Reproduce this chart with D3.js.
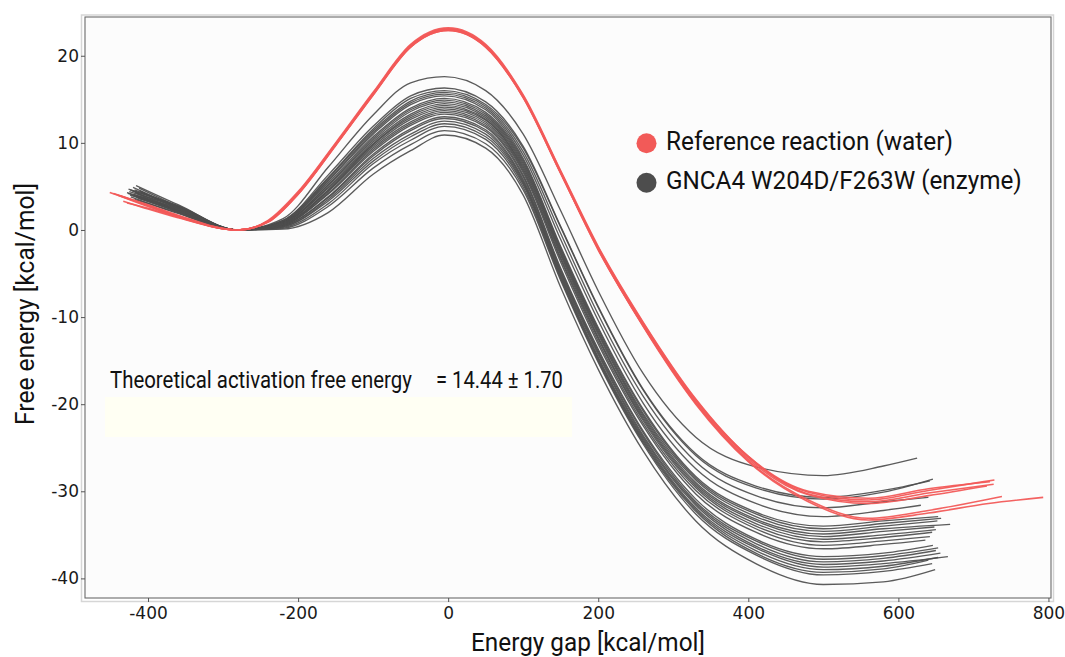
<!DOCTYPE html>
<html>
<head>
<meta charset="utf-8">
<script src="https://cdn.jsdelivr.net/npm/d3@7"></script>
<style>
  html, body { margin: 0; padding: 0; background: #ffffff; }
  svg { display: block; }
</style>
</head>
<body>
<script>
// ---------------- DATA ----------------
const xTicks = [-400, -200, 0, 200, 400, 600, 800];
const yTicks = [-40, -30, -20, -10, 0, 10, 20];

// Enzyme (GNCA4 W204D/F263W) free-energy profiles on a shared energy-gap grid
const enzymeGrid = [-360, -280, -220, -160, -100, -50, -5, 50, 100, 150, 200, 260, 330, 410, 500, 580];
const enzymeStart = [
  [-416, 5.1], [-424, 4.6], [-412, 4.8], [-428, 4.3], [-420, 4.9], [-415, 4.2],
  [-426, 4.7], [-410, 4.4], [-422, 4.0], [-418, 4.6], [-413, 3.9], [-425, 4.4],
  [-419, 4.1], [-411, 4.5], [-427, 4.2], [-416, 3.8], [-421, 4.5], [-414, 3.7],
  [-424, 4.0], [-417, 4.3], [-412, 3.6], [-423, 3.8], [-418, 3.5]
];
const enzymeEnd = [
  [625, -26.2], [642, -28.8], [646, -28.6], [640, -30.7], [630, -31.6], [653, -32.9],
  [657, -33.1], [652, -33.4], [669, -33.8], [648, -34.1], [650, -34.4], [645, -34.7],
  [642, -35.2], [636, -35.6], [646, -36.2], [653, -36.5], [650, -36.8], [656, -37.1],
  [666, -37.5], [653, -37.6], [640, -37.9], [645, -38.3], [649, -39.0]
];
const enzymeEnergy = [
  [2.9, 0, 1.3, 7.2, 13.2, 16.9, 17.6, 16.0, 11.0, 2.2, -7.0, -16.5, -23.8, -27.2, -28.2, -27.1],
  [2.7, 0, 1.1, 6.3, 11.9, 15.4, 16.3, 14.7, 9.6, 0.4, -8.8, -18.3, -25.7, -29.4, -30.7, -29.9],
  [2.7, 0, 1.1, 6.0, 11.6, 15.1, 16.0, 14.4, 9.4, 0.3, -8.9, -18.4, -25.9, -29.6, -30.9, -30.1],
  [2.5, 0, 1.0, 5.9, 11.4, 14.8, 15.8, 14.2, 9.0, -0.4, -9.7, -19.1, -26.6, -30.5, -31.9, -31.2],
  [2.6, 0, 1.0, 5.7, 11.2, 14.6, 15.6, 14.0, 8.6, -1.1, -10.4, -19.9, -27.4, -31.4, -32.9, -32.2],
  [2.6, 0, 0.9, 5.6, 11.0, 14.4, 15.4, 13.8, 8.2, -1.9, -11.2, -20.6, -28.3, -32.4, -34.0, -33.4],
  [2.8, 0, 0.9, 5.4, 10.7, 14.0, 15.1, 13.5, 8.0, -2.1, -11.4, -20.8, -28.5, -32.6, -34.3, -33.7],
  [2.5, 0, 0.8, 5.2, 10.5, 13.8, 14.9, 13.3, 7.8, -2.3, -11.6, -21.1, -28.7, -32.9, -34.6, -34.0],
  [2.3, 0, 0.8, 5.1, 10.3, 13.6, 14.7, 13.1, 7.6, -2.5, -11.8, -21.3, -29.0, -33.2, -34.9, -34.3],
  [2.7, 0, 0.8, 4.9, 10.1, 13.3, 14.5, 12.9, 7.4, -2.7, -12.0, -21.5, -29.2, -33.4, -35.2, -34.6],
  [2.4, 0, 0.8, 4.8, 9.9, 13.1, 14.3, 12.7, 7.2, -2.9, -12.3, -21.7, -29.4, -33.7, -35.5, -35.0],
  [2.6, 0, 0.7, 4.6, 9.8, 12.9, 14.1, 12.6, 7.0, -3.2, -12.5, -21.9, -29.6, -34.0, -35.8, -35.3],
  [2.2, 0, 0.7, 4.5, 9.6, 12.7, 13.9, 12.4, 6.8, -3.4, -12.8, -22.2, -29.9, -34.3, -36.2, -35.7],
  [2.5, 0, 0.6, 4.4, 9.4, 12.4, 13.7, 12.2, 6.6, -3.7, -13.1, -22.5, -30.3, -34.7, -36.6, -36.1],
  [2.3, 0, 0.6, 4.2, 9.2, 12.2, 13.5, 12.0, 6.3, -4.4, -13.7, -23.1, -30.9, -35.5, -37.5, -37.1],
  [2.1, 0, 0.6, 4.1, 9.0, 12.0, 13.3, 11.8, 6.1, -4.6, -13.9, -23.3, -31.2, -35.7, -37.8, -37.4],
  [2.3, 0, 0.5, 3.8, 8.7, 11.6, 13.0, 11.5, 5.8, -4.8, -14.1, -23.6, -31.4, -36.0, -38.1, -37.7],
  [2.4, 0, 0.5, 3.7, 8.5, 11.4, 12.8, 11.3, 5.6, -5.0, -14.3, -23.8, -31.6, -36.3, -38.4, -38.0],
  [2.2, 0, 0.4, 3.5, 8.2, 11.0, 12.5, 11.0, 5.4, -5.2, -14.6, -24.0, -31.9, -36.5, -38.7, -38.3],
  [2.0, 0, 0.4, 3.3, 7.9, 10.7, 12.2, 10.7, 5.2, -5.4, -14.8, -24.2, -32.1, -36.8, -39.0, -38.6],
  [2.1, 0, 0.3, 3.0, 7.6, 10.3, 11.9, 10.4, 4.9, -5.6, -15.0, -24.4, -32.3, -37.1, -39.3, -38.9],
  [1.9, 0, 0.2, 2.7, 7.1, 9.8, 11.4, 9.9, 4.6, -5.8, -15.2, -24.6, -32.6, -37.3, -39.6, -39.2],
  [2.0, 0, 0.1, 2.0, 6.4, 9.1, 10.9, 9.4, 4.0, -6.6, -16.0, -25.4, -33.4, -38.3, -40.7, -40.4]
];

// Reference reaction (water) profiles
const waterGrid = [-400, -360, -280, -240, -200, -150, -100, -50, 0, 50, 100, 150, 200, 260, 330, 400, 480, 560, 640];
const waterStart = [[-451, 4.3], [-446, 4.2], [-440, 4.0], [-436, 3.9], [-433, 3.3], [-428, 3.1]];
const waterTail = [
  [[728, -28.7]],
  [[727, -29.2]],
  [[718, -29.4]],
  [[722, -28.9]],
  [[738, -30.6]],
  [[720, -31.4], [793, -30.7]]
];
const waterEnergy = [
  [2.8, 1.6, 0.0, 1.0, 4.2, 9.8, 15.6, 21.1, 23.0, 21.1, 15.3, 6.6, -2.1, -10.8, -19.6, -26.1, -30.1, -31.0, -29.9],
  [2.9, 1.7, 0.0, 1.1, 4.4, 10.0, 15.8, 21.3, 23.2, 21.3, 15.5, 6.8, -1.9, -10.6, -19.4, -26.0, -30.3, -31.2, -30.2],
  [2.7, 1.5, 0.0, 0.9, 4.1, 9.7, 15.5, 21.0, 22.9, 21.0, 15.2, 6.5, -2.3, -11.0, -19.8, -26.3, -30.4, -31.4, -30.5],
  [2.8, 1.6, 0.0, 1.0, 4.3, 9.9, 15.7, 21.2, 23.1, 21.2, 15.4, 6.7, -2.0, -10.7, -19.5, -26.0, -30.0, -30.8, -29.7],
  [2.4, 1.4, 0.0, 0.9, 4.1, 9.7, 15.5, 21.0, 22.9, 21.0, 15.2, 6.5, -2.2, -11.0, -19.9, -26.5, -31.0, -33.1, -32.2],
  [2.5, 1.5, 0.0, 1.0, 4.2, 9.8, 15.6, 21.1, 23.0, 21.1, 15.3, 6.6, -2.2, -11.1, -20.0, -26.6, -31.2, -33.3, -32.5]
];

const legendLabels = ["Reference reaction (water)", "GNCA4 W204D/F263W (enzyme)"];
const annotationLabel = "Theoretical activation free energy";
const annotationValue = "= 14.44 ± 1.70";

// ---------------- DRAWING ----------------
const W = 1065, H = 657;
const plot = { left: 85, top: 17, right: 1051, bottom: 598 };
const colRed = "#f25a58", colGray = "#4d4d4d";

const svg = d3.select("body").append("svg").attr("width", W).attr("height", H);
svg.append("rect").attr("width", W).attr("height", H).attr("fill", "#ffffff");

const x = d3.scaleLinear().domain([-484, 803.4]).range([plot.left, plot.right]);
const y = d3.scaleLinear().domain([-42.25, 24.45]).range([plot.bottom, plot.top]);

svg.append("rect").attr("x", 81.5).attr("y", 15).attr("width", 972).attr("height", 586.5)
  .attr("fill", "#ffffff").attr("stroke", "#d6d6d6").attr("stroke-width", 1.5);
svg.append("rect").attr("x", plot.left).attr("y", plot.top)
  .attr("width", plot.right - plot.left).attr("height", plot.bottom - plot.top)
  .attr("fill", "#fcfcfc");

svg.append("rect").attr("x", 105).attr("y", 397).attr("width", 467).attr("height", 40)
  .attr("fill", "#fffff3");

const line = d3.line().x(d => x(d[0])).y(d => y(d[1])).curve(d3.curveMonotoneX);

const gEnz = svg.append("g");
enzymeEnergy.forEach((vals, i) => {
  const pts = [enzymeStart[i]].concat(enzymeGrid.map((gx, j) => [gx, vals[j]]), [enzymeEnd[i]]);
  gEnz.append("path").attr("d", line(pts)).attr("fill", "none")
    .attr("stroke", colGray).attr("stroke-width", 1.35).attr("stroke-opacity", 0.92);
});

const gWat = svg.append("g");
waterEnergy.forEach((vals, i) => {
  const pts = [waterStart[i]].concat(waterGrid.map((gx, j) => [gx, vals[j]]), waterTail[i]);
  gWat.append("path").attr("d", line(pts)).attr("fill", "none")
    .attr("stroke", colRed).attr("stroke-width", 1.6).attr("stroke-opacity", 0.95);
});

svg.append("rect").attr("x", plot.left).attr("y", plot.top)
  .attr("width", plot.right - plot.left).attr("height", plot.bottom - plot.top)
  .attr("fill", "none").attr("stroke", "#6a6a6a").attr("stroke-width", 1.1);

const xAxis = svg.append("g").attr("transform", `translate(0,${plot.bottom})`)
  .call(d3.axisBottom(x).tickValues(xTicks).tickSize(4).tickPadding(5).tickFormat(d => String(d)));
const yAxis = svg.append("g").attr("transform", `translate(${plot.left},0)`)
  .call(d3.axisLeft(y).tickValues(yTicks).tickSize(4).tickPadding(2).tickFormat(d => String(d)));
[xAxis, yAxis].forEach(a => {
  a.select(".domain").remove();
  a.selectAll(".tick line").attr("stroke", "#555").attr("stroke-width", 1);
  a.selectAll(".tick text").attr("font-family", "DejaVu Sans").attr("font-size", 17).attr("fill", "#1a1a1a");
});

// condensed-looking text: natural Roboto, horizontally scaled to the measured width
function condensedText(str, tx, ty, targetW, size, rotate, anchor) {
  const t = svg.append("text").attr("font-family", "Roboto").attr("font-size", size)
    .attr("fill", "#111").attr("text-anchor", anchor || "start").text(str);
  const natural = t.node().getComputedTextLength();
  const sx = targetW / natural;
  t.attr("transform", `translate(${tx},${ty})${rotate ? " rotate(" + rotate + ")" : ""} scale(${sx},1)`);
  return t;
}

condensedText("Energy gap [kcal/mol]", 471, 651, 234, 25.5);
condensedText("Free energy [kcal/mol]", 33.5, 304, 242, 25.5, -90, "middle");

const legColors = [colRed, colGray];
const legY = [143.3, 182.7];
const legTextW = [287, 356];
legendLabels.forEach((lab, i) => {
  svg.append("circle").attr("cx", 646.5).attr("cy", legY[i]).attr("r", 10).attr("fill", legColors[i]);
  condensedText(lab, 666, legY[i] + 6.7, legTextW[i], 25.5);
});

condensedText(annotationLabel, 110, 388.3, 302, 24.5);
condensedText(annotationValue, 436, 388.3, 127, 24.5);
</script>
</body>
</html>
